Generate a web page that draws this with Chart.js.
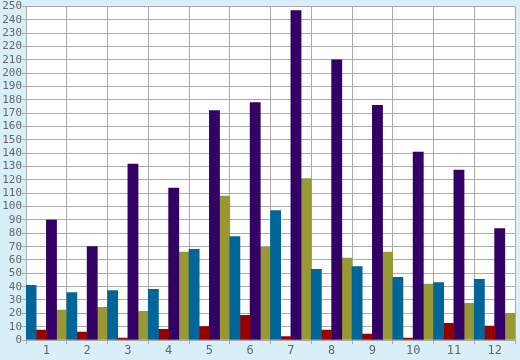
<!DOCTYPE html>
<html>
<head>
<meta charset="utf-8">
<script src="https://cdn.jsdelivr.net/npm/chart.js@4/dist/chart.umd.min.js"></script>
<style>
  html, body { margin: 0; padding: 0; background: #d9eff7; }
  #chart { display: block; }
</style>
</head>
<body>
<canvas id="chart" width="520" height="360"></canvas>
<script>
// categories and series
var categorias = ['1', '2', '3', '4', '5', '6', '7', '8', '9', '10', '11', '12'];
var serieAzul = [41, 35.5, 37, 38, 68, 77.5, 97, 53, 55, 47, 43, 45.5];
var serieRoja = [7.5, 6, 1.5, 8, 10, 18.5, 2.5, 7.5, 4.5, 1.5, 12.5, 10.5];
var serieMorada = [90, 70, 132, 114, 172, 178, 247, 210, 176, 141, 127.5, 83.5];
var serieOliva = [22.5, 24.5, 21.5, 66, 108, 69.5, 121, 61.5, 66, 42, 27.5, 20];

// white plot area behind the bars
var fondoPlot = {
    id: 'fondoPlot',
    beforeDraw: function(chart) {
        var a = chart.chartArea;
        var c = chart.ctx;
        c.save();
        c.fillStyle = '#ffffff';
        c.fillRect(a.left, a.top, a.right - a.left, a.bottom - a.top);
        c.restore();
    }
};

function serie(datos, color) {
    return {
        data: datos,
        backgroundColor: color,
        borderWidth: 0,
        categoryPercentage: 1,
        barPercentage: 1
    };
}

var ctx = document.getElementById('chart').getContext('2d');
var grafico = new Chart(ctx, {
    type: 'bar',
    data: {
        labels: categorias,
        datasets: [
            serie(serieAzul, '#006699'),
            serie(serieRoja, '#990000'),
            serie(serieMorada, '#330066'),
            serie(serieOliva, '#999933')
        ]
    },
    options: {
        responsive: false,
        animation: false,
        layout: { padding: { top: 5, right: 5, left: 0, bottom: 0 } },
        plugins: {
            legend: { display: false },
            tooltip: { enabled: false }
        },
        scales: {
            x: {
                grid: { color: '#aaaaaa', lineWidth: 1, tickLength: 4, offset: true },
                border: { color: '#aaaaaa' },
                ticks: {
                    color: '#666666',
                    font: { family: 'DejaVu Sans Mono', size: 12 },
                    padding: 0,
                    maxRotation: 0
                },
                afterFit: function(scale) { scale.height = 20; }
            },
            y: {
                min: 0,
                max: 250,
                grid: { color: '#aaaaaa', lineWidth: 1, tickLength: 4 },
                border: { color: '#aaaaaa' },
                ticks: {
                    stepSize: 10,
                    autoSkip: false,
                    color: '#666666',
                    font: { family: 'DejaVu Sans Mono', size: 11 },
                    padding: 0
                },
                afterFit: function(scale) { scale.width = 26; }
            }
        }
    },
    plugins: [fondoPlot]
});
</script>
</body>
</html>
